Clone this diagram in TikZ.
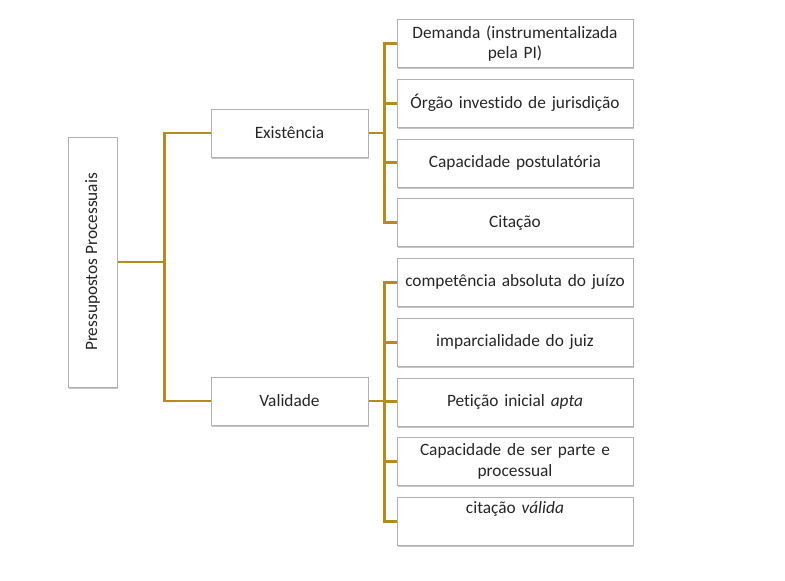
\documentclass[tikz,border=0pt]{standalone}
\usepackage{fontspec}
\setmainfont{Carlito}[Ligatures=NoCommon]
\usepackage{xcolor}
\definecolor{TrunkGold}{HTML}{B38B1F}
\definecolor{EdgeGray}{HTML}{B0B0B0}
\definecolor{InkGray}{HTML}{262626}
\usepackage{tikz}
\usetikzlibrary{positioning,calc,shadows,backgrounds}

\begin{document}
\begin{tikzpicture}[x=0.75pt,y=-0.75pt,node distance=8.2pt,
  box/.style={draw=EdgeGray,line width=0.6pt,fill=white,text=InkGray,align=center,font=\fontsize{13}{15.5}\selectfont,drop shadow={shadow xshift=0.9pt,shadow yshift=-1.2pt,opacity=0.45,fill=gray}},
  leaf/.style={box,minimum width=177pt,minimum height=36pt,text width=170pt},
  mid/.style={box,minimum width=117.75pt,minimum height=36pt},
  link/.style={draw=TrunkGold,line width=2.2pt}]
\useasboundingbox (0,0) rectangle (785,581);
\node[box,minimum width=36.75pt,minimum height=187.5pt] (root) at (92.5,262) {\rotatebox{90}{Pressupostos Processuais}};
\node[mid] (ex) at (289.5,133) {Existência};
\node[mid] (va) at (289.5,401) {Validade};
\node[leaf] (d1) at (515,43.5) {Demanda (instrumentalizada\\pela PI)};
\node[leaf,below=of d1] (d2) {Órgão investido de jurisdição};
\node[leaf,below=of d2] (d3) {Capacidade postulatória};
\node[leaf,below=of d3] (d4) {Citação};
\node[leaf,below=of d4] (v1) {competência absoluta do juízo};
\node[leaf,below=of v1] (v2) {imparcialidade do juiz};
\node[leaf,below=of v2] (v3) {Petição inicial \textit{apta}};
\node[leaf,below=of v3] (v4) {Capacidade de ser parte e\\processual};
\node[leaf,below=of v4,text height=8.5pt,text depth=20.8pt] (v5) {citação \textit{válida}};
\coordinate (rj) at ($(root.east)+(47,0)$);
\coordinate (ej) at ($(ex.east)+(16,0)$);
\coordinate (vj) at ($(va.east)+(16,0)$);
\begin{scope}[on background layer]
\draw[link](root.east)--(rj);\draw[link](rj)|-(ex.west);\draw[link](rj)|-(va.west);
\draw[link](ex.east)--(ej);\draw[link](ej)|-(d1.west);\draw[link](ej)|-(d2.west);\draw[link](ej)|-(d3.west);\draw[link](ej)|-(d4.west);
\draw[link](va.east)--(vj);\draw[link](vj)|-(v1.west);\draw[link](vj)|-(v2.west);\draw[link](vj)|-(v3.west);\draw[link](vj)|-(v4.west);\draw[link](vj)|-(v5.west);
\end{scope}
\end{tikzpicture}
\end{document}
